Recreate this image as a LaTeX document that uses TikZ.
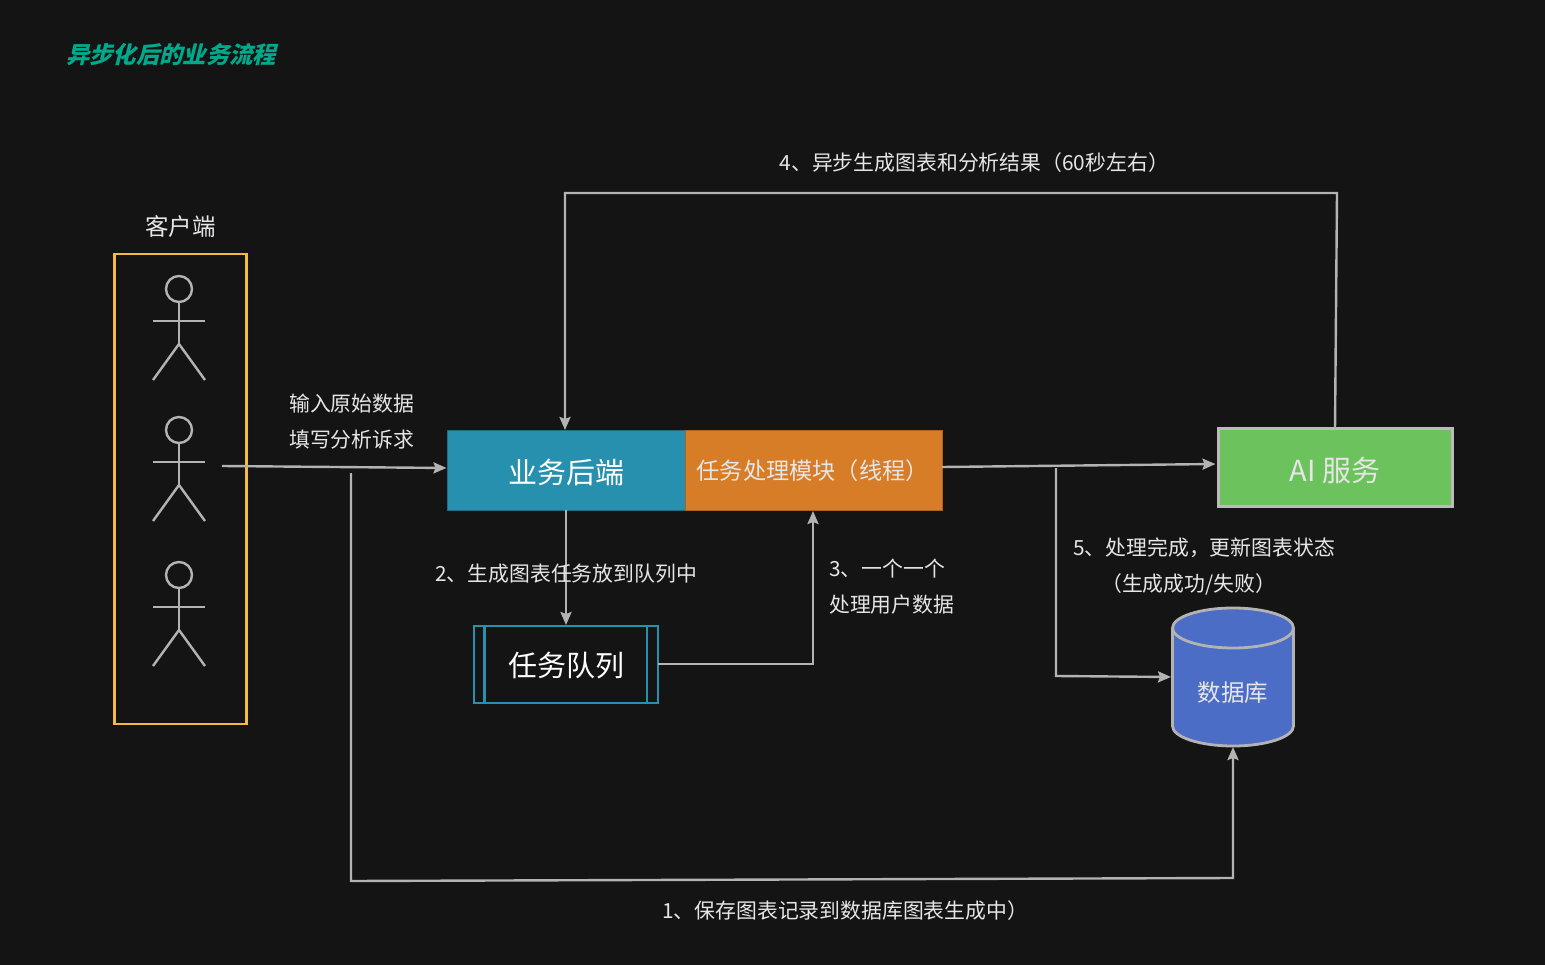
\documentclass[tikz,border=0pt]{standalone}
\usepackage{fontspec}
\usetikzlibrary{arrows.meta}
\setmainfont{Noto Sans CJK SC}
\newfontfamily\titlecjk[FakeSlant=0.25,BoldFeatures={FakeSlant=0.25}]{Noto Sans CJK SC}
\definecolor{bgc}{HTML}{141414}
\definecolor{linec}{HTML}{B3B3B3}
\definecolor{txtc}{HTML}{E6E6E6}
\definecolor{teal}{HTML}{2790AF}
\definecolor{orangec}{HTML}{D77C27}
\definecolor{greenc}{HTML}{6CC25C}
\definecolor{bluec}{HTML}{4C6DC6}
\definecolor{yellowc}{HTML}{F5B93C}
\definecolor{titlec}{HTML}{00A98B}
\newcommand{\fs}[1]{\fontsize{#1}{#1}\selectfont}
\tikzset{
  x=1pt,y=-1pt,
  conn/.style={draw=linec,line width=2.4pt,line join=miter,shorten >=1pt,-{Stealth[length=13pt,width=11pt,inset=2pt]}},
  lbl/.style={text=txtc,inner sep=0pt,font=\fs{20.85}},
  stick/.style={draw=linec,line width=2.4pt},
  anchorbox/.style={inner sep=0pt,outer sep=0pt},
}
\begin{document}
\begin{tikzpicture}
\path[fill=bgc] (0,0) rectangle (1545,965);
\useasboundingbox (0,0) rectangle (1545,965);

\node[anchor=west,text=titlec,inner sep=0pt,font=\titlecjk\bfseries\fs{23.3}] (title) at (66,55) {异步化后的业务流程};

% client
\node[text=txtc,inner sep=0pt,font=\fs{23.5}] (clientlabel) at (180.5,227) {客户端};
\node[draw=yellowc,line width=2.6pt,minimum width=132pt,minimum height=470pt,anchor=north west,inner sep=0pt,outer sep=0pt] (client) at (114.3,254) {};
\foreach \n/\yy in {a/289,b/430,c/575}{
  \node[circle,draw=linec,line width=2.4pt,minimum size=26pt,inner sep=0pt] (head\n) at (179,\yy) {};
  \coordinate (hip\n) at (179,\yy+55);
  \draw[stick] (head\n.south) -- (hip\n);
  \draw[stick] (153,\yy+32) -- (205,\yy+32);
  \draw[stick] (153,\yy+91) -- (hip\n) -- (205,\yy+91);
}
\coordinate (clientout) at (222,466);

% boxes
\node[draw=teal!75!black,line width=1pt,fill=teal,minimum width=238pt,minimum height=79pt,anchor=north west,inner sep=0pt,outer sep=0pt] (backend) at (447,431) {};
\node[text=white,inner sep=0pt,font=\fs{29}] at (566,472) {业务后端};
\node[draw=orangec!80!black,line width=1pt,fill=orangec,minimum width=257pt,minimum height=79pt,anchor=north west,inner sep=0pt,outer sep=0pt] (worker) at (685,431) {};
\node[anchor=west,text=txtc,inner sep=0pt,font=\fs{23.2}] at (696.5,471) {任务处理模块（线程）};

\node[draw=teal,line width=2.4pt,minimum width=184pt,minimum height=77pt,anchor=north west,inner sep=0pt,outer sep=0pt] (queue) at (474,626) {};
\draw[draw=teal,line width=2.4pt] (484.5,626) -- (484.5,703) (647,626) -- (647,703);
\node[text=white,inner sep=0pt,font=\fs{29}] at (566,666) {任务队列};

\node[draw=linec!90!white,line width=3pt,fill=greenc,minimum width=234pt,minimum height=77pt,anchor=north west,inner sep=0pt,outer sep=0pt] (ai) at (1218,429) {};
\node[text=txtc,inner sep=0pt,font=\fs{29}] at (1335,470) {AI 服务};

% database
\path[fill=bluec,draw=linec,line width=2.8pt] (1172.5,628) arc[start angle=180,end angle=0,x radius=60.5,y radius=-20]
  -- (1293.5,726) arc[start angle=0,end angle=-180,x radius=60.5,y radius=-20] -- cycle;
\draw[draw=linec,line width=2.8pt] (1172.5,628) arc[start angle=180,end angle=360,x radius=60.5,y radius=-20];
\node[anchorbox,minimum width=122pt,minimum height=138pt] (db) at (1233,677) {};
\node[text=txtc,inner sep=0pt,font=\fs{23.5}] at (1233,693) {数据库};

% connectors
\coordinate (clientin) at (447.5,468);
\draw[conn] (clientout) -- (clientin);
\coordinate (reqtap) at (351,473);
\coordinate (c1a) at (351,881);
\coordinate (c1b) at (1233,878);
\draw[conn] (reqtap) -- (c1a) -- (c1b) -- (db.south);
\draw[conn] (backend.south) -- (queue.north);
\coordinate (q1) at (813,664);
\draw[conn] (queue.east |- q1) -- (q1) -- (worker.south -| q1);
\coordinate (wout) at (942,467);
\coordinate (aiin) at (1216.5,464);
\draw[conn] (wout) -- (aiin);
\coordinate (c4a) at (1337,193);
\coordinate (c4b) at (565,193);
\draw[conn] (ai.north) -- (c4a) -- (c4b) -- (backend.north -| c4b);
\coordinate (c5t) at (1056,468);
\coordinate (c5b) at (1056,676);
\draw[conn] (c5t) -- (c5b) -- (db.west);

% labels
\node[lbl,anchor=west] (l0a) at (289,404) {输入原始数据};
\node[lbl,anchor=west] (l0b) at (289,440) {填写分析诉求};
\node[lbl,anchor=west] (l2) at (435,574) {2、生成图表任务放到队列中};
\node[lbl,anchor=west] (l3a) at (829,569) {3、一个一个};
\node[lbl,anchor=west] (l3b) at (829,605) {处理用户数据};
\node[lbl,anchor=west] (l4) at (779.5,163) {4、异步生成图表和分析结果（60秒左右）};
\node[lbl,anchor=west] (l5a) at (1073,548) {5、处理完成，更新图表状态};
\node[lbl,anchor=west] (l5b) at (1101,584) {（生成成功/失败）};
\node[lbl,anchor=west] (l1) at (662,911) {1、保存图表记录到数据库图表生成中）};
\end{tikzpicture}
\end{document}
